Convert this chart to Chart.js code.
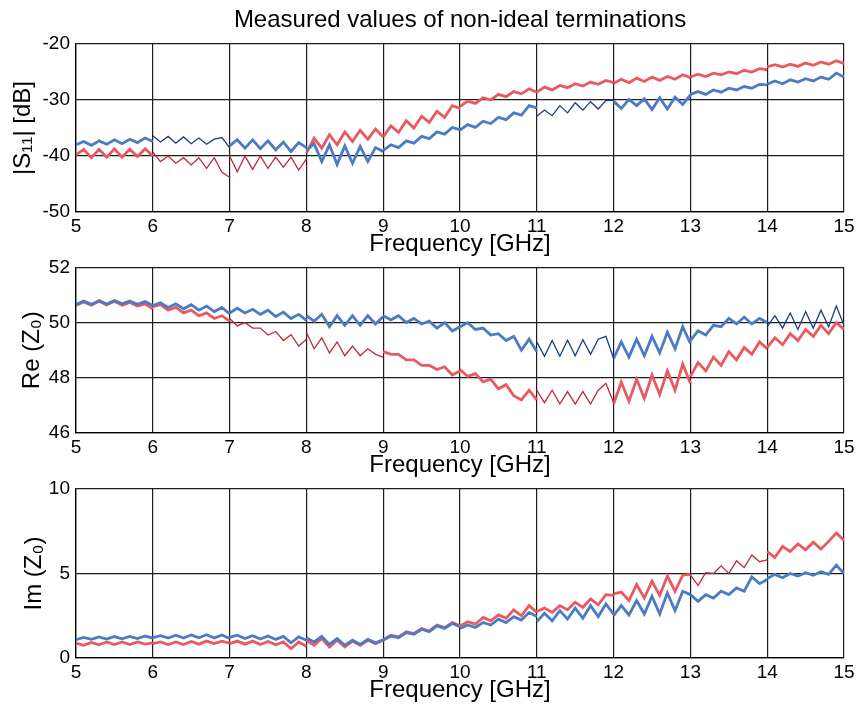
<!DOCTYPE html>
<html>
<head>
<meta charset="utf-8">
<script src="https://cdn.jsdelivr.net/npm/chart.js@4.4.1/dist/chart.umd.min.js"></script>
<style>
  body { margin: 0; background: #fff; }
  #wrap { position: relative; width: 858px; height: 710px; }
  canvas { position: absolute; left: 0; }
</style>
</head>
<body>
<div id="wrap">
  <canvas id="c1" width="858" height="260" style="top:0px"></canvas>
  <canvas id="c2" width="858" height="230" style="top:250px"></canvas>
  <canvas id="c3" width="858" height="240" style="top:470px"></canvas>
</div>
<script>
// frequency axis: each row is one 1 GHz measurement segment, sampled every 0.1 GHz
const freqStart = 5;
const freqTicks = [5, 6, 7, 8, 9, 10, 11, 12, 13, 14, 15];

// |S11| [dB]
const s11Blue = [
  [-38.0, -37.4, -38.1, -37.3, -37.9, -37.1, -37.8, -37.0, -37.6, -36.8, -37.4],
  [-36.4, -37.5, -36.5, -37.7, -36.6, -37.8, -36.8, -37.9, -37.0, -36.7, -38.5],
  [-38.2, -37.1, -38.6, -37.1, -38.7, -37.3, -38.9, -37.5, -39.2, -37.6, -38.5],
  [-39.0, -37.8, -41.0, -38.0, -41.5, -38.2, -41.3, -38.3, -41.0, -38.5, -39.2],
  [-39.0, -38.0, -38.5, -37.3, -37.7, -36.5, -36.9, -35.7, -36.1, -34.9, -35.3],
  [-35.4, -34.4, -34.9, -33.8, -34.2, -33.1, -33.5, -32.3, -32.7, -31.0, -31.4],
  [-32.9, -31.8, -32.8, -31.0, -32.3, -30.5, -31.8, -30.3, -31.6, -30.1, -30.0],
  [-30.2, -31.5, -29.9, -31.0, -29.8, -31.7, -29.6, -31.6, -29.5, -30.8, -29.1],
  [-29.0, -28.5, -29.0, -28.2, -28.6, -27.9, -28.2, -27.6, -27.9, -27.2, -27.3],
  [-27.2, -26.6, -27.1, -26.4, -26.8, -26.2, -26.6, -25.9, -26.3, -25.2, -25.9]
];
const s11Red = [
  [-39.8, -38.8, -40.3, -38.8, -40.2, -38.7, -40.2, -38.8, -40.1, -38.7, -40.0],
  [-39.3, -41.0, -40.0, -41.3, -40.3, -41.6, -40.3, -42.2, -40.3, -42.9, -43.8],
  [-40.0, -42.8, -40.0, -42.4, -40.0, -42.2, -40.2, -42.0, -40.2, -42.5, -40.5],
  [-39.5, -36.8, -38.6, -36.2, -38.0, -35.7, -37.4, -35.4, -37.0, -35.2, -36.6],
  [-36.6, -34.6, -35.8, -33.7, -35.0, -32.9, -34.0, -32.0, -33.1, -31.0, -31.5],
  [-31.2, -30.2, -30.6, -29.6, -30.0, -29.0, -29.4, -28.5, -28.9, -28.0, -28.6],
  [-28.6, -27.7, -28.2, -27.4, -27.8, -27.1, -27.5, -26.8, -27.2, -26.5, -26.9],
  [-27.0, -26.3, -26.9, -26.1, -26.7, -25.9, -26.5, -25.8, -26.3, -25.5, -26.0],
  [-25.9, -25.4, -25.8, -25.2, -25.5, -25.0, -25.3, -24.7, -25.0, -24.4, -24.6],
  [-24.1, -23.7, -24.1, -23.6, -24.0, -23.4, -23.8, -23.2, -23.6, -23.0, -23.5]
];

// Re(Z0)
const reBlue = [
  [50.65, 50.78, 50.66, 50.80, 50.67, 50.80, 50.68, 50.78, 50.66, 50.76, 50.62],
  [50.62, 50.72, 50.55, 50.68, 50.50, 50.65, 50.45, 50.60, 50.40, 50.55, 50.32],
  [50.35, 50.52, 50.35, 50.48, 50.30, 50.45, 50.22, 50.38, 50.15, 50.30, 50.08],
  [50.25, 50.05, 50.30, 49.85, 50.25, 49.90, 50.25, 49.90, 50.25, 49.95, 50.22],
  [50.25, 50.10, 50.25, 50.00, 50.15, 49.95, 50.05, 49.80, 50.00, 49.70, 49.85],
  [49.85, 50.00, 49.75, 49.80, 49.55, 49.60, 49.35, 49.50, 49.00, 49.40, 48.95],
  [49.30, 48.78, 49.35, 48.78, 49.36, 48.80, 49.38, 48.85, 49.40, 49.50, 48.70],
  [48.70, 49.30, 48.75, 49.40, 48.80, 49.50, 48.90, 49.65, 49.05, 49.85, 49.25],
  [49.35, 49.70, 49.55, 49.90, 49.85, 50.15, 49.95, 50.20, 49.95, 50.15, 50.00],
  [49.85, 50.25, 49.80, 50.35, 49.75, 50.40, 49.80, 50.45, 49.85, 50.60, 49.90]
];
const reRed = [
  [50.62, 50.75, 50.63, 50.77, 50.64, 50.77, 50.63, 50.73, 50.60, 50.68, 50.50],
  [50.58, 50.65, 50.45, 50.55, 50.35, 50.45, 50.25, 50.35, 50.15, 50.25, 50.05],
  [50.15, 49.88, 50.00, 49.80, 49.80, 49.55, 49.68, 49.35, 49.56, 49.15, 49.40],
  [49.65, 49.05, 49.45, 48.90, 49.30, 48.80, 49.15, 48.80, 49.05, 48.85, 48.75],
  [48.95, 48.85, 48.85, 48.65, 48.65, 48.45, 48.45, 48.30, 48.40, 48.10, 48.25],
  [48.30, 48.05, 48.15, 47.85, 47.95, 47.60, 47.75, 47.35, 47.20, 47.55, 47.20],
  [47.55, 47.10, 47.55, 47.05, 47.50, 47.05, 47.50, 47.05, 47.55, 47.80, 47.10],
  [47.05, 47.85, 47.15, 47.95, 47.25, 48.10, 47.40, 48.25, 47.55, 48.50, 47.80],
  [48.05, 48.55, 48.25, 48.75, 48.45, 48.95, 48.65, 49.10, 48.85, 49.30, 49.05],
  [49.10, 49.45, 49.20, 49.60, 49.35, 49.75, 49.50, 49.90, 49.60, 50.00, 49.75]
];

// Im(Z0)
const imBlue = [
  [1.08, 1.22, 1.10, 1.25, 1.12, 1.27, 1.14, 1.28, 1.15, 1.30, 1.18],
  [1.20, 1.32, 1.18, 1.35, 1.18, 1.36, 1.20, 1.38, 1.18, 1.36, 1.15],
  [1.22, 1.35, 1.15, 1.32, 1.12, 1.30, 1.10, 1.28, 0.90, 1.25, 1.05],
  [1.20, 0.95, 1.28, 0.80, 1.15, 0.75, 1.05, 0.80, 1.10, 0.90, 1.08],
  [1.05, 1.30, 1.20, 1.50, 1.40, 1.70, 1.55, 1.90, 1.75, 2.05, 1.85],
  [1.75, 1.95, 1.80, 2.10, 1.95, 2.30, 2.10, 2.45, 2.25, 2.70, 2.45],
  [2.15, 2.65, 2.20, 2.80, 2.30, 2.95, 2.35, 3.10, 2.45, 3.20, 2.60],
  [2.50, 3.10, 2.55, 3.40, 2.60, 3.65, 2.60, 3.85, 2.80, 3.95, 3.75],
  [3.75, 3.35, 3.75, 3.55, 3.95, 3.75, 4.15, 3.95, 4.80, 4.40, 4.65],
  [4.70, 4.95, 4.75, 5.00, 4.85, 5.05, 4.90, 5.10, 4.95, 5.50, 5.00]
];
const imRed = [
  [0.88, 0.75, 0.92, 0.78, 0.95, 0.80, 0.95, 0.80, 0.95, 0.82, 0.90],
  [0.85, 0.95, 0.80, 0.95, 0.80, 0.98, 0.82, 1.00, 0.85, 1.00, 0.88],
  [0.85, 1.00, 0.82, 1.00, 0.80, 0.98, 0.78, 0.95, 0.55, 0.95, 0.70],
  [1.05, 0.75, 1.15, 0.65, 1.05, 0.65, 1.00, 0.75, 1.05, 0.85, 1.05],
  [1.10, 1.35, 1.25, 1.55, 1.45, 1.75, 1.60, 1.95, 1.80, 2.10, 1.90],
  [1.90, 2.15, 2.00, 2.40, 2.20, 2.55, 2.35, 2.85, 2.50, 3.10, 2.70],
  [2.75, 2.95, 2.70, 3.10, 2.85, 3.30, 3.00, 3.50, 3.15, 3.75, 3.70],
  [3.80, 3.90, 3.40, 4.35, 3.55, 4.55, 3.70, 4.85, 3.95, 4.90, 4.95],
  [4.90, 4.30, 5.05, 5.00, 5.45, 5.00, 5.75, 5.35, 6.10, 5.70, 5.80],
  [6.30, 5.95, 6.60, 6.30, 6.75, 6.40, 6.85, 6.45, 6.90, 7.40, 6.95]
];

// segments (start GHz) that were drawn with the thin dark pen
const thinS11Blue = [6, 11];
const thinS11Red = [6, 7];
const thinReBlue = [11, 14];
const thinReRed = [7, 8, 11];
const thinImBlue = [];
const thinImRed = [13];

const BLUE = '#4b7bc3', BLUE_DARK = '#1e3b8c';
const RED = '#ea5860', RED_DARK = '#c02a36';
const FONT = '"Liberation Sans", Arial, Helvetica, sans-serif';

function segmentSets(rows, color, darkColor, thinSegs) {
  return rows.map((row, k) => {
    const start = freqStart + k;
    const thin = thinSegs.includes(start);
    return {
      data: row.map((v, j) => ({ x: start + j / 10, y: v })),
      borderColor: thin ? darkColor : color,
      borderWidth: thin ? 1.3 : 2.8,
      pointRadius: 0,
      tension: 0,
      fill: false
    };
  });
}

function makePanel(id, opt) {
  const ctx = document.getElementById(id).getContext('2d');
  return new Chart(ctx, {
    type: 'line',
    data: { datasets: opt.datasets },
    options: {
      responsive: false,
      animation: false,
      events: [],
      layout: { padding: { left: 0, right: 14, top: opt.padTop, bottom: 0 } },
      plugins: {
        legend: { display: false },
        tooltip: { enabled: false },
        title: {
          display: !!opt.title,
          text: opt.title || '',
          fullSize: false,
          color: '#000',
          font: { family: FONT, size: 24, weight: 'normal' },
          padding: { top: 5.6, bottom: 9.6 }
        }
      },
      scales: {
        x: {
          type: 'linear',
          min: freqTicks[0],
          max: freqTicks[freqTicks.length - 1],
          afterFit: s => { s.height = opt.xHeight; },
          afterBuildTicks: s => { s.ticks = freqTicks.map(v => ({ value: v })); },
          ticks: { color: '#000', font: { family: FONT, size: 19 }, padding: 3, maxRotation: 0 },
          grid: { color: '#1c1c1c', lineWidth: 1.2, drawTicks: false },
          border: { color: '#000', width: 1.3 },
          title: {
            display: true,
            text: 'Frequency [GHz]',
            color: '#000',
            font: { family: FONT, size: 24 },
            padding: { top: 0, bottom: opt.xTitlePad }
          }
        },
        y: {
          min: opt.yMin,
          max: opt.yMax,
          afterFit: s => { s.width = 76; },
          ticks: { stepSize: opt.yStep, color: '#000', font: { family: FONT, size: 19 }, padding: 6 },
          grid: { color: '#1c1c1c', lineWidth: 1.2, drawTicks: false },
          border: { color: '#000', width: 1.3 },
          title: {
            display: true,
            text: opt.yTitle,
            color: '#000',
            font: { family: FONT, size: 24 },
            padding: { top: opt.yTitlePad, bottom: 0 }
          }
        }
      }
    }
  });
}

makePanel('c1', {
  title: 'Measured values of non-ideal terminations',
  padTop: 0, xHeight: 48, xTitlePad: 1.6,
  yMin: -50, yMax: -20, yStep: 10, yTitle: '|S\u2081\u2081| [dB]', yTitlePad: 8.6,
  datasets: [
    ...segmentSets(s11Blue, BLUE, BLUE_DARK, thinS11Blue),
    ...segmentSets(s11Red, RED, RED_DARK, thinS11Red)
  ]
});

makePanel('c2', {
  padTop: 15, xHeight: 47, xTitlePad: 0.6,
  yMin: 46, yMax: 52, yStep: 2, yTitle: 'Re (Z\u2080)', yTitlePad: 18,
  datasets: [
    ...segmentSets(reBlue, BLUE, BLUE_DARK, thinReBlue),
    ...segmentSets(reRed, RED, RED_DARK, thinReRed)
  ]
});

makePanel('c3', {
  padTop: 19, xHeight: 52, xTitlePad: 5.6,
  yMin: 0, yMax: 10, yStep: 5, yTitle: 'Im (Z\u2080)', yTitlePad: 20,
  datasets: [
    ...segmentSets(imBlue, BLUE, BLUE_DARK, thinImBlue),
    ...segmentSets(imRed, RED, RED_DARK, thinImRed)
  ]
});
</script>
</body>
</html>
